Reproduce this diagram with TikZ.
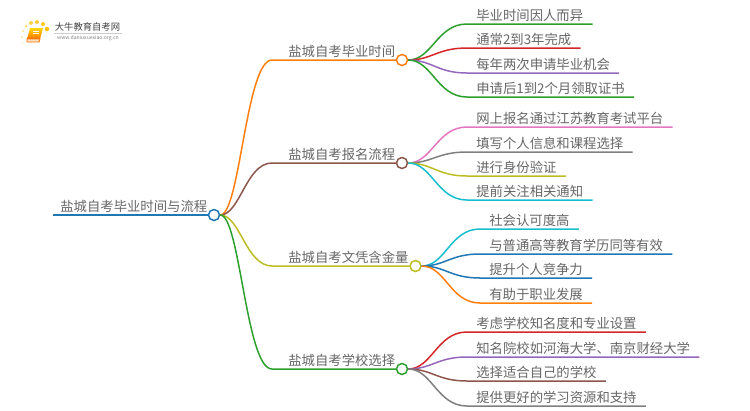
\documentclass[tikz,border=0pt]{standalone}
\usepackage{fontspec}
\setmainfont{Noto Sans CJK SC}
\usepackage{amsmath}
\definecolor{tgreen}{HTML}{2CA02C}
\definecolor{tred}{HTML}{D62728}
\definecolor{tpurple}{HTML}{9467BD}
\definecolor{tpink}{HTML}{E377C2}
\definecolor{tgrey}{HTML}{7F7F7F}
\definecolor{tolive}{HTML}{BCBD22}
\definecolor{tcyan}{HTML}{17BECF}
\definecolor{tblue}{HTML}{1F77B4}
\definecolor{torange}{HTML}{FF7F0E}
\definecolor{tbrown}{HTML}{8C564B}
\definecolor{inktext}{HTML}{666666}
\tikzstyle{leaf}=[anchor=south west,inner xsep=0.18cm,inner ysep=0.6pt,text=inktext,font=\fontsize{7.6pt}{9pt}\selectfont,text height=6.6pt,text depth=1pt]
\tikzstyle{topic}=[leaf,inner xsep=0.32cm]
\tikzstyle{maintopic}=[leaf,inner xsep=0.14cm]
\tikzstyle{knob}=[circle,fill=white,line width=0.85pt,minimum size=0.22cm,inner sep=0pt]
\tikzstyle{twig}=[line width=0.85pt]
\tikzstyle{dot}=[circle,fill=orange!50!yellow,inner sep=0pt]

\begin{document}
\begin{tikzpicture}[x=0.02cm,y=-0.02cm]
    \useasboundingbox (0,0) rectangle (750,410);
    % logo
    \node[inner sep=0pt,text=black!75,font=\fontsize{5.3pt}{6pt}\selectfont] (logot) at (87.5,27) {大牛教育自考网};
    \node[inner sep=0pt,text=black!50,font=\fontsize{2.9pt}{4pt}\selectfont] (logou) at (88,38.5) {www.daniuxuexiao.org.cn};
    \draw[black!20,line width=0.3pt] (54,33) -- (122,33);
    \foreach \px/\py/\ds/\op in {47/29/0.09/1,43/24/0.08/.9,37/22/0.08/.8,31/23/0.08/.7,26/26/0.06/.5,23/31/0.05/.4,22/37/0.05/.3,23/43/0.04/.2}
    \node[dot,minimum size=\ds cm,opacity=\op] at (\px,\py) {};
    \shade[top color=yellow!70!orange,bottom color=orange!90!red] (30,28) -- (43,28) -- (40,39) -- (27,39) -- cycle;
    \draw[orange!90!red,line width=0.5pt,fill=orange!25] (27,42) -- (39,42) -- (40,39) -- (27,39) -- cycle;
    \draw[white,line width=0.4pt] (33,31) -- (39,31) (32.5,33) -- (38.5,33);

    % main topic
    \node[maintopic] (t0) at (53,215) {盐城自考毕业时间与流程};
    \node[knob,draw=tblue] (c0) at (214,215) {};
    \draw[twig,tblue,line width=1.1pt] (t0.south west) -- (c0);

    % topics
    \node[topic] (t1) at (272,60) {盐城自考毕业时间};
    \node[topic] (t2) at (272,163) {盐城自考报名流程};
    \node[topic] (t3) at (272,266) {盐城自考文凭含金量};
    \node[topic] (t4) at (272,369) {盐城自考学校选择};
    \node[knob,draw=torange] (c1) at (402,60) {};
    \node[knob,draw=tbrown] (c2) at (402,163) {};
    \node[knob,draw=tolive] (c3) at (415.5,266) {};
    \node[knob,draw=tgreen] (c4) at (402,369) {};

    % leaves
    \node[leaf] (n11) at (467,24) {毕业时间因人而异};
    \node[leaf] (n12) at (467,48) {通常2到3年完成};
    \node[leaf] (n13) at (467,73) {每年两次申请毕业机会};
    \node[leaf] (n14) at (467,97) {申请后1到2个月领取证书};
    \node[leaf] (n21) at (467,127) {网上报名通过江苏教育考试平台};
    \node[leaf] (n22) at (467,152) {填写个人信息和课程选择};
    \node[leaf] (n23) at (467,176) {进行身份验证};
    \node[leaf] (n24) at (467,200) {提前关注相关通知};
    \node[leaf] (n31) at (480,229) {社会认可度高};
    \node[leaf] (n32) at (480,254) {与普通高等教育学历同等有效};
    \node[leaf] (n33) at (480,278) {提升个人竞争力};
    \node[leaf] (n34) at (480,303) {有助于职业发展};
    \node[leaf] (n41) at (467,332) {考虑学校知名度和专业设置};
    \node[leaf] (n42) at (467,357) {知名院校如河海大学、南京财经大学};
    \node[leaf] (n43) at (467,381) {选择适合自己的学校};
    \node[leaf] (n44) at (467,406) {提供更好的学习资源和支持};

    \foreach \to/\col in {1/torange,2/tbrown,3/tolive,4/tgreen}
    \draw[twig,\col] (c0) .. controls +(26,0) and +(-26,0) .. (t\to.south west) -- (c\to);

    \foreach \from/\to/\col in {c1/n11/tgreen,c1/n12/tred,c1/n13/tpurple,c1/n14/tgreen,
        c2/n21/tpink,c2/n22/tgrey,c2/n23/tolive,c2/n24/tcyan,
        c3/n31/tcyan,c3/n32/tblue,c3/n33/tblue,c3/n34/torange,
        c4/n41/tred,c4/n42/tpurple,c4/n43/tbrown,c4/n44/tgrey}
    \draw[twig,\col] (\from) .. controls +(30,0) and +(-30,0) .. (\to.south west) -- (\to.south east);
\end{tikzpicture}
\end{document}
